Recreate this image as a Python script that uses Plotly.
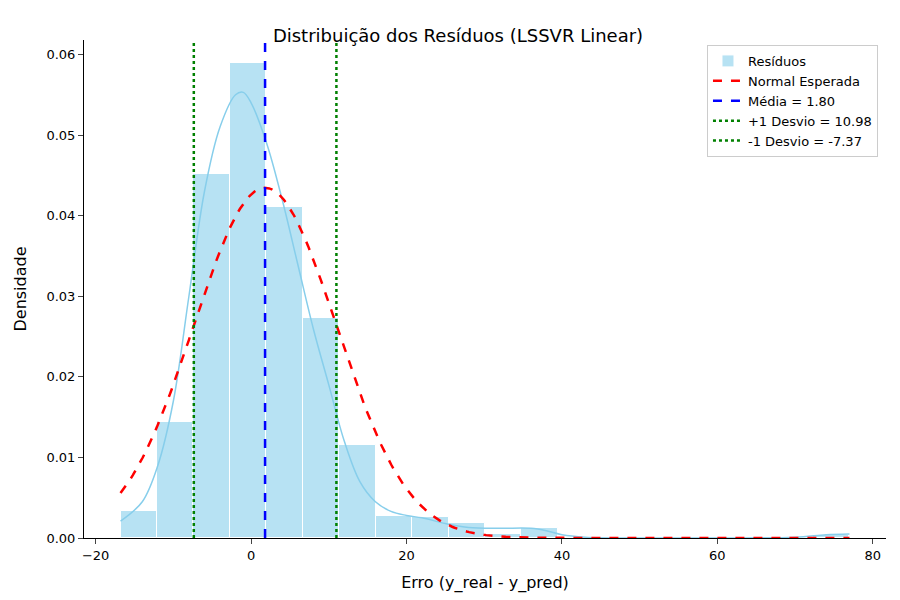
import numpy as np
import plotly.graph_objects as go

# histogram (density) of residuals
bin_start = -16.8
bin_width = 4.69
bar_heights = [0.0033, 0.0144, 0.0452, 0.0589, 0.0411, 0.0273, 0.0115, 0.0027, 0.0026, 0.0019,
               0.0005, 0.0012, 0, 0, 0, 0, 0, 0, 0, 0.0004]

# KDE curve
kde_x = [-16.8, -14, -12, -10, -8, -6, -4, -2, -1, 0, 2, 4, 6, 8, 10, 12, 14, 16, 18, 20,
         22, 25, 28, 32, 36, 38, 40, 43, 50, 60, 70, 74, 77]
kde_y = [0.0021, 0.0045, 0.0090, 0.017, 0.030, 0.043, 0.051, 0.0550, 0.0553, 0.054, 0.049,
         0.042, 0.034, 0.026, 0.019, 0.012, 0.007, 0.0045, 0.0033, 0.0028, 0.0025, 0.0018,
         0.0013, 0.0012, 0.0012, 0.0009, 0.0004, 0.0001, 0.0, 0.0, 0.0001, 0.0004, 0.0005]

mean = 1.80
plus_sd = 10.98
minus_sd = -7.37
sd = plus_sd - mean

centers = [bin_start + bin_width * (i + 0.5) for i in range(len(bar_heights))]
xs = np.linspace(bin_start, bin_start + bin_width * len(bar_heights), 300)
normal = np.exp(-0.5 * ((xs - mean) / sd) ** 2) / (sd * np.sqrt(2 * np.pi))

fig = go.Figure()
# bars first so the lines sit on top
fig.add_trace(go.Bar(x=centers, y=bar_heights, width=bin_width, name="Resíduos",
                     marker=dict(color="rgba(135,206,235,0.6)", line=dict(color="white", width=1))))
fig.add_trace(go.Scatter(x=kde_x, y=kde_y, mode="lines", line=dict(color="skyblue", width=1.5, shape="spline"),
                         showlegend=False))
fig.add_trace(go.Scatter(x=xs, y=normal, mode="lines", name="Normal Esperada",
                         line=dict(color="red", width=2.5, dash="dash")))
for val, name, color, dash in [(mean, "Média = 1.80", "blue", "dash"),
                               (plus_sd, "+1 Desvio = 10.98", "green", "dot"),
                               (minus_sd, "-1 Desvio = -7.37", "green", "dot")]:
    fig.add_trace(go.Scatter(x=[val, val], y=[0, 0.062], mode="lines", name=name,
                             line=dict(color=color, width=2.5, dash=dash)))

fig.update_layout(
    width=900, height=600, plot_bgcolor="white", paper_bgcolor="white",
    font=dict(family="DejaVu Sans", size=13, color="black"),
    title=dict(text="Distribuição dos Resíduos (LSSVR Linear)", x=0.5, y=0.965, font=dict(size=18)),
    margin=dict(l=73, r=22, t=32, b=70),
    bargap=0,
    legend=dict(x=0.99, y=0.99, xanchor="right", yanchor="top", bordercolor="#cccccc", borderwidth=1,
                font=dict(size=13), traceorder="normal"),
    xaxis=dict(title=dict(text="Erro (y_real - y_pred)", font=dict(size=16)), range=[-21.5, 81.7],
               tickvals=[-20, 0, 20, 40, 60, 80], showline=True, linecolor="black", ticks="outside",
               showgrid=False, zeroline=False),
    yaxis=dict(title=dict(text="Densidade", font=dict(size=16)), range=[0, 0.0618], dtick=0.01,
               tickformat=".2f", showline=True, linecolor="black", ticks="outside",
               showgrid=False, zeroline=False),
)
fig.write_html("out.html")
